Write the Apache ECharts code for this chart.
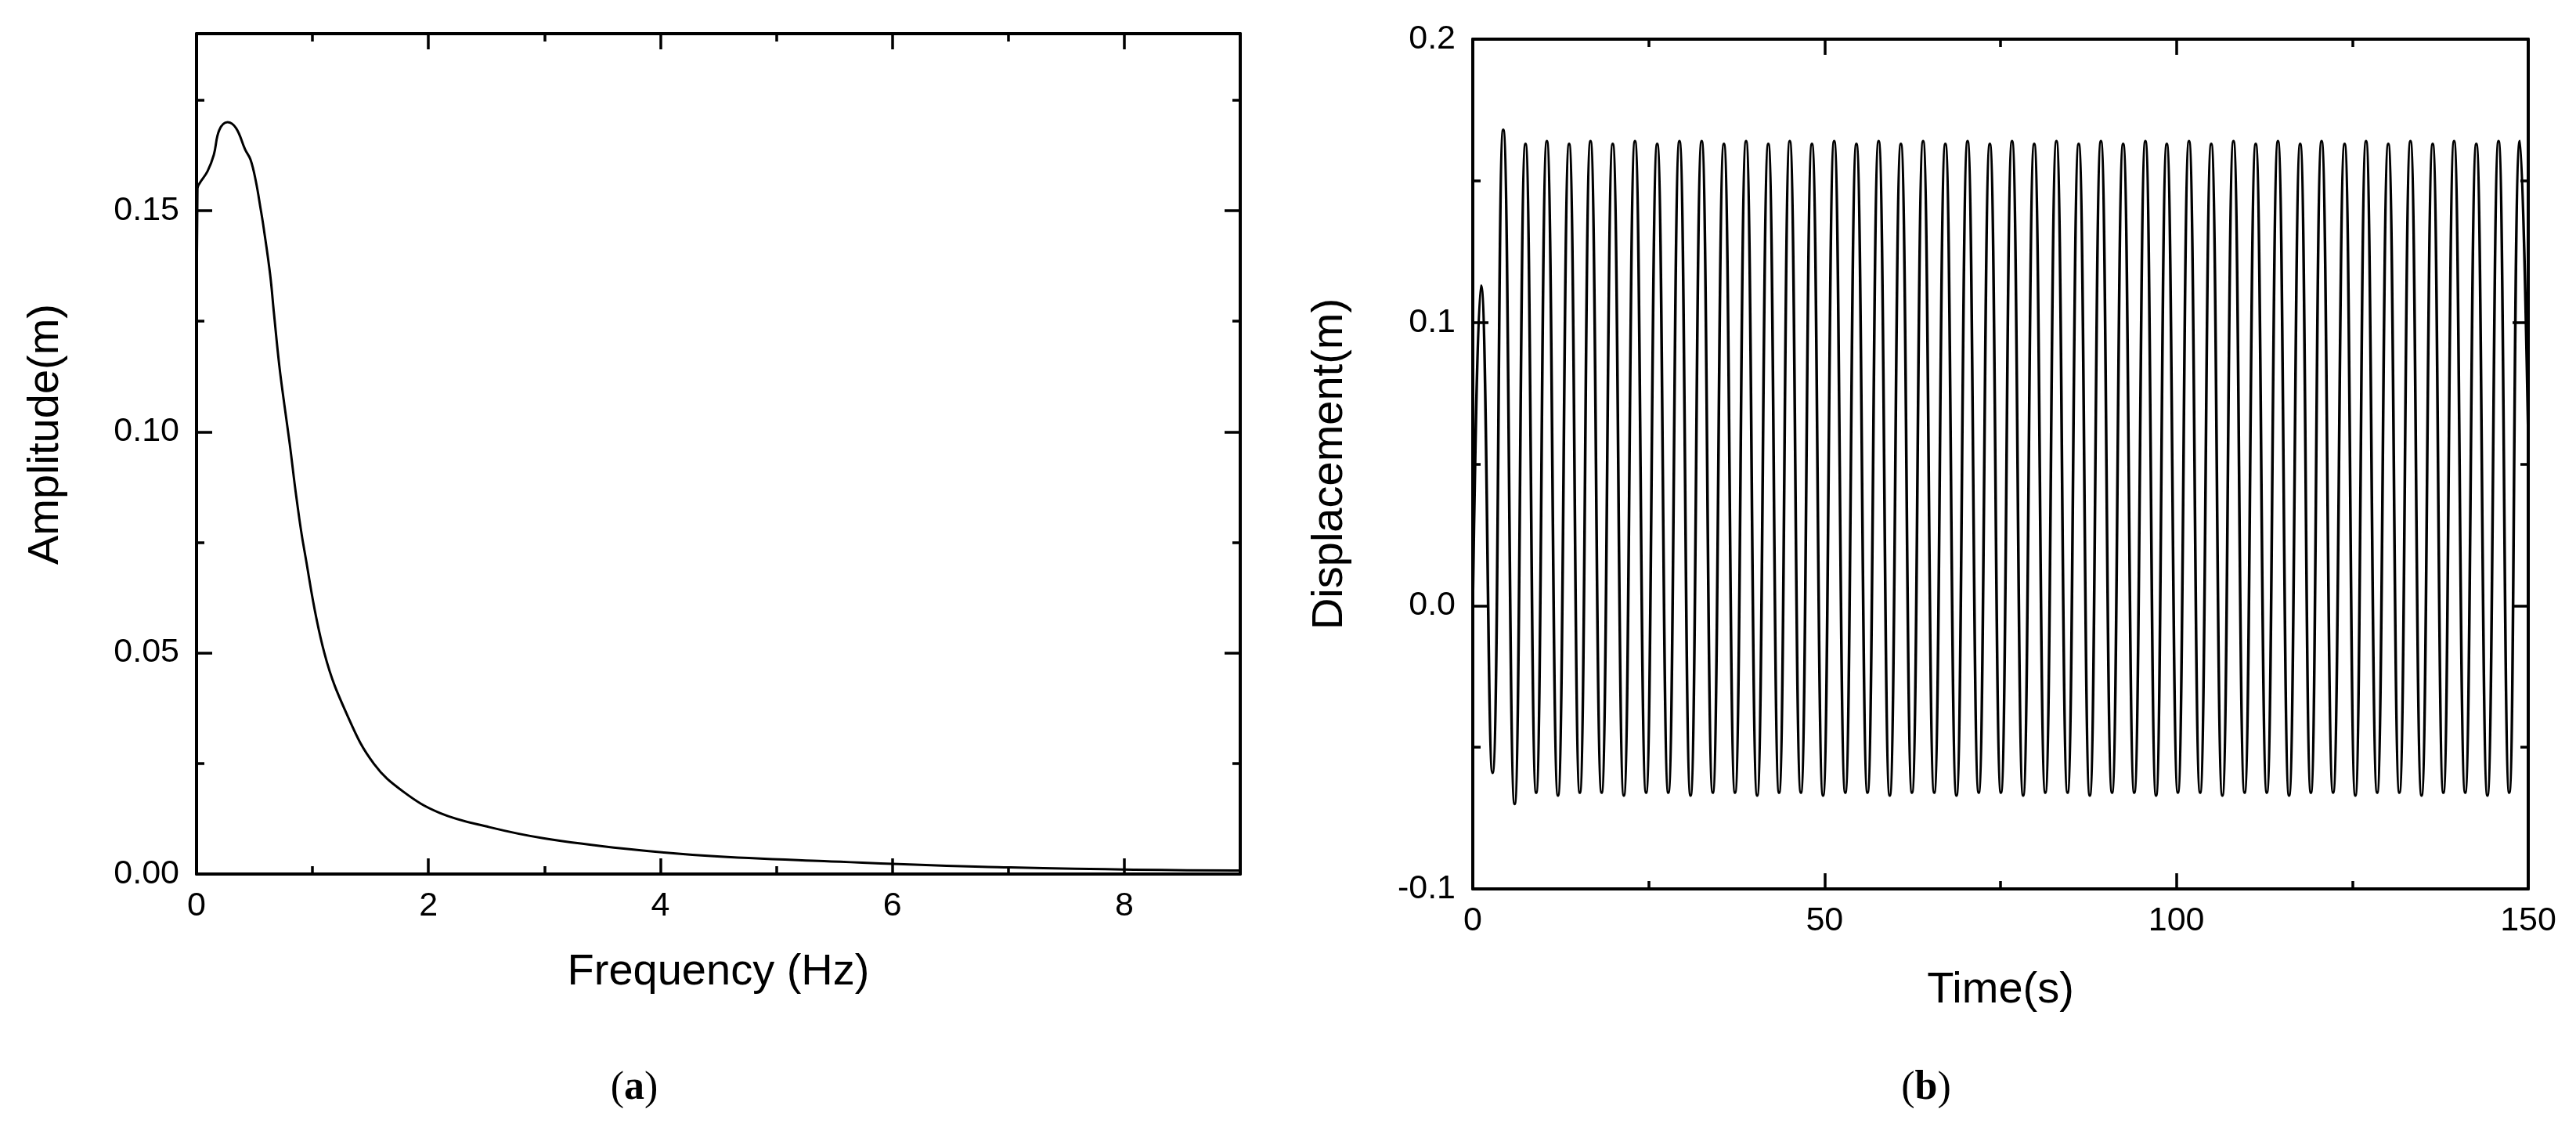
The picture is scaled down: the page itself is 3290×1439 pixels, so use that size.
<!DOCTYPE html>
<html>
<head>
<meta charset="utf-8">
<title>Amplitude spectrum and displacement history</title>
<script src="https://cdn.jsdelivr.net/npm/echarts@6/dist/echarts.min.js"></script>
<style>
  html, body { margin: 0; padding: 0; background: #fff; }
  #chart { width: 3290px; height: 1439px; }
</style>
</head>
<body>
<div id="chart"></div>
<script>
// (a) amplitude spectrum
const freqHz = [0, 0.008, 0.027, 0.095, 0.149, 0.196, 0.268, 0.342, 0.419, 0.466, 0.511, 0.554,
  0.579, 0.635, 0.668, 0.714, 0.758, 0.804, 0.860, 0.927, 1.103, 1.317, 1.530, 1.779,
  2.099, 2.525, 2.989, 3.70, 4.41, 5.41, 6.83, 8.96, 9.0];
const amplitude = [0.109, 0.155, 0.1562, 0.1589, 0.1626, 0.1682, 0.1700, 0.1686, 0.1638, 0.1615, 0.1567, 0.1502,
  0.1461, 0.1355, 0.1267, 0.1149, 0.1060, 0.0972, 0.0854, 0.0736, 0.0499, 0.0349, 0.0249, 0.0187,
  0.0138, 0.0106, 0.0081, 0.0057, 0.0041, 0.0029, 0.0016, 0.0008, 0.0008];

// (b) displacement history: crests and troughs of each cycle
const crestTime = [1.17, 4.33, 7.49, 10.53, 13.69, 16.73, 19.89, 23.05, 26.21, 29.37, 32.53, 35.69,
  38.84, 42.00, 45.05, 48.20, 51.36, 54.52, 57.68, 60.84, 64.00, 67.16, 70.32, 73.48,
  76.64, 79.79, 82.95, 86.11, 89.27, 92.43, 95.59, 98.63, 101.79, 104.95, 108.11, 111.27,
  114.43, 117.59, 120.63, 123.90, 126.95, 130.11, 133.26, 136.42, 139.46, 142.62, 145.78, 148.82];
const crestDisp = [0.113, 0.168, 0.163, 0.164, 0.163, 0.164, 0.163, 0.164, 0.163, 0.164, 0.164, 0.163,
  0.164, 0.163, 0.164, 0.163, 0.164, 0.163, 0.164, 0.163, 0.164, 0.163, 0.164, 0.163,
  0.164, 0.163, 0.164, 0.163, 0.164, 0.163, 0.164, 0.163, 0.164, 0.163, 0.164, 0.163,
  0.164, 0.163, 0.164, 0.163, 0.164, 0.163, 0.164, 0.163, 0.164, 0.163, 0.164, 0.164];
const troughTime = [2.80, 5.95, 9.01, 12.11, 15.21, 18.31, 21.47, 24.63, 27.79, 30.95, 34.11, 37.27,
  40.42, 43.53, 46.63, 49.78, 52.94, 56.10, 59.26, 62.42, 65.58, 68.74, 71.90, 75.06,
  78.22, 81.37, 84.53, 87.69, 90.85, 94.01, 97.11, 100.21, 103.37, 106.53, 109.69, 112.85,
  116.01, 119.11, 122.27, 125.43, 128.53, 131.69, 134.84, 137.94, 141.04, 144.20, 147.30];
const troughDisp = [-0.059, -0.070, -0.066, -0.067, -0.066, -0.066, -0.067, -0.066, -0.066, -0.067, -0.066, -0.066,
  -0.067, -0.066, -0.066, -0.067, -0.066, -0.066, -0.067, -0.066, -0.066, -0.067, -0.066, -0.066,
  -0.067, -0.066, -0.066, -0.067, -0.066, -0.066, -0.067, -0.066, -0.066, -0.067, -0.066, -0.066,
  -0.067, -0.066, -0.066, -0.067, -0.066, -0.066, -0.067, -0.066, -0.066, -0.067, -0.066];
const dispStart = [0, 0];
const dispEnd = [150, 0.06];

const FONT = '"Liberation Sans", Arial, sans-serif';
const SERIF = '"Liberation Serif", "Times New Roman", serif';
const BLACK = '#000';

const spectrumData = freqHz.map((f, i) => [f, amplitude[i]]);

const historyData = [dispStart];
crestTime.forEach((t, i) => {
  historyData.push([t, crestDisp[i]]);
  if (i < troughTime.length) historyData.push([troughTime[i], troughDisp[i]]);
});
historyData.push(dispEnd);

const xAxes = [];
const yAxes = [];

// Origin-style frame: inward major + minor ticks, mirrored on the far sides
function addAxes(list, gridIndex, sides, cfg) {
  const mainIndex = list.length;
  sides.forEach((side, k) => {
    const primary = k === 0;
    list.push({
      type: 'value', gridIndex, position: side,
      min: cfg.min, max: cfg.max, interval: cfg.major,
      name: primary ? cfg.name : '',
      nameLocation: 'middle', nameGap: cfg.nameGap,
      nameTextStyle: Object.assign({ fontFamily: FONT, fontSize: 56, color: BLACK }, cfg.nameStyle || {}),
      axisLine: { show: true, onZero: false, lineStyle: { color: BLACK, width: 4 } },
      axisTick: { show: true, inside: true, length: 20, lineStyle: { color: BLACK, width: 3.5 } },
      axisLabel: {
        show: primary, margin: cfg.labelMargin, fontFamily: FONT, fontSize: 43, color: BLACK,
        showMaxLabel: cfg.showMax, formatter: cfg.format
      },
      splitLine: { show: false }
    });
    list.push({
      type: 'value', gridIndex, position: side,
      min: cfg.min, max: cfg.max, interval: cfg.minor,
      axisLine: { show: false, onZero: false },
      axisTick: { show: true, inside: true, length: 10, lineStyle: { color: BLACK, width: 3.5 } },
      axisLabel: { show: false },
      splitLine: { show: false }
    });
  });
  return mainIndex;
}

const ax0 = addAxes(xAxes, 0, ['bottom', 'top'], {
  min: 0, max: 9, major: 2, minor: 1, name: 'Frequency (Hz)', nameGap: 98,
  labelMargin: 20, showMax: false, format: v => String(v)
});
const ay0 = addAxes(yAxes, 0, ['left', 'right'], {
  min: 0, max: 0.19, major: 0.05, minor: 0.025, name: 'Amplitude(m)', nameGap: 164,
  nameStyle: { padding: [0, 0, 0, 50] },
  labelMargin: 22, showMax: false, format: v => v.toFixed(2)
});
const ax1 = addAxes(xAxes, 1, ['bottom', 'top'], {
  min: 0, max: 150, major: 50, minor: 25, name: 'Time(s)', nameGap: 102,
  labelMargin: 20, showMax: true, format: v => String(v)
});
const ay1 = addAxes(yAxes, 1, ['left', 'right'], {
  min: -0.1, max: 0.2, major: 0.1, minor: 0.05, name: 'Displacement(m)', nameGap: 154,
  labelMargin: 22, showMax: true, format: v => (Math.abs(v) < 1e-9 ? 0 : v).toFixed(1)
});

// sub-figure caption: plain parentheses, bold letter
function caption(letter, x) {
  return {
    type: 'text', x, y: 1390,
    style: {
      text: '{p|(}{b|' + letter + '}{p|)}', textAlign: 'center', textVerticalAlign: 'middle',
      rich: {
        p: { fontFamily: SERIF, fontSize: 52, fill: BLACK },
        b: { fontFamily: SERIF, fontSize: 52, fontWeight: 'bold', fill: BLACK }
      }
    }
  };
}

const chart = echarts.init(document.getElementById('chart'));
chart.setOption({
  animation: false,
  backgroundColor: '#fff',
  grid: [
    { left: 251, top: 43, width: 1333, height: 1073 },
    { left: 1881, top: 50, width: 1348, height: 1085 }
  ],
  xAxis: xAxes,
  yAxis: yAxes,
  series: [
    {
      type: 'line', xAxisIndex: ax0, yAxisIndex: ay0, data: spectrumData,
      showSymbol: false, smooth: 0.4,
      lineStyle: { color: BLACK, width: 3 }
    },
    {
      type: 'line', xAxisIndex: ax1, yAxisIndex: ay1, data: historyData,
      showSymbol: false, smooth: 0.5,
      lineStyle: { color: BLACK, width: 3.5 }
    }
  ],
  graphic: [caption('a', 810), caption('b', 2460)]
});
window.addEventListener('resize', () => chart.resize());
</script>
</body>
</html>
